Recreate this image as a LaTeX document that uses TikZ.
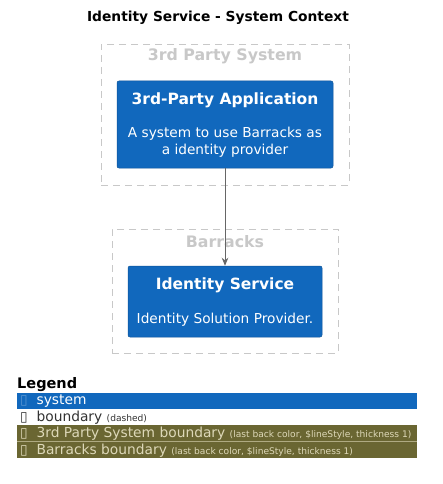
\documentclass[tikz,border=0pt]{standalone}
\usepackage{fontspec}
\setmainfont{DejaVu Sans}
\usetikzlibrary{arrows.meta}
\definecolor{sysblue}{HTML}{1168BD}
\definecolor{bndgray}{HTML}{C8C8C8}
\definecolor{olive}{HTML}{6A6632}
\definecolor{olivetext}{HTML}{DDD8B8}
\definecolor{arrgray}{HTML}{666666}
\newcommand{\lgsmall}{\fontsize{9.1}{11}\selectfont}
\tikzset{
    BND/.style ={rectangle, draw=bndgray, dash pattern=on 7pt off 5pt, line width=0.8pt},
    BL/.style  ={text=bndgray, font=\bfseries\fontsize{15.8}{18}\selectfont},
    SYS/.style ={rectangle, rounded corners=2pt, fill=sysblue, draw=sysblue!80!black, line width=0.5pt},
    ST/.style  ={text=white, font=\bfseries\fontsize{15.5}{18}\selectfont},
    SD/.style  ={text=white, font=\fontsize{13.7}{17}\selectfont, align=center},
    LG/.style  ={anchor=north west, minimum width=400pt, minimum height=16pt, inner sep=0pt},
    LT/.style  ={anchor=west, inner sep=0pt, font=\fontsize{13.8}{15}\selectfont}}
\begin{document}
\begin{tikzpicture}[x=1pt,y=-1pt]
        \useasboundingbox (0,0) rectangle (442,484);
        \node[font=\bfseries\fontsize{13.8}{16}\selectfont] (title) at(218,18){Identity Service - System Context};
        % boundaries
        \node[BND, minimum width=248pt, minimum height=141pt] (b1) at(225,114.5){};
        \node[BL] (b1l) at(225,56){3rd Party System};
        \node[BND, minimum width=226pt, minimum height=124pt] (b2) at(225,291){};
        \node[BL] (b2l) at(225,242){Barracks};
        % systems
        \node[SYS, minimum width=216pt, minimum height=87pt] (app) at(225,124.5){};
        \node[ST] (appt) at(225,100.5){3rd-Party Application};
        \node[SD] (appd) at(225,142){A system to use Barracks as\\a identity provider};
        \node[SYS, minimum width=194pt, minimum height=71pt] (ids) at(225,301.5){};
        \node[ST] (idst) at(225,285.5){Identity Service};
        \node[SD] (idsd) at(225,319.5){Identity Solution Provider.};
        \draw[arrgray, line width=0.8pt, -{Stealth[length=8pt,width=6.5pt]}] (app) -- (ids);
        % legend
        \node[anchor=west, font=\bfseries\fontsize{14.5}{16}\selectfont, inner sep=0pt] (lg) at(17,385){Legend};
        \node[LG, fill=sysblue] (l1) at(17,393){};
        \node[LG, fill=white] (l2) at(17,409){};
        \node[LG, fill=olive] (l3) at(17,425){};
        \node[LG, fill=olive] (l4) at(17,442){};
        \draw[olivetext!60!olive, line width=0.6pt] (l3.south west) -- (l3.south east);
        \node[LT, text=white] (l1t) at([xshift=3pt]l1.west){\textcolor{sysblue!70!white}{▯}\ \ system};
        \node[LT, text=black!80] (l2t) at([xshift=3pt]l2.west){▯\ \ boundary {\lgsmall (dashed)}};
        \node[LT, text=olivetext] (l3t) at([xshift=3pt]l3.west){▯\ \ 3rd Party System boundary {\lgsmall (last back color, \$lineStyle, thickness 1)}};
        \node[LT, text=olivetext] (l4t) at([xshift=3pt]l4.west){▯\ \ Barracks boundary {\lgsmall (last back color, \$lineStyle, thickness 1)}};
\end{tikzpicture}
\end{document}
